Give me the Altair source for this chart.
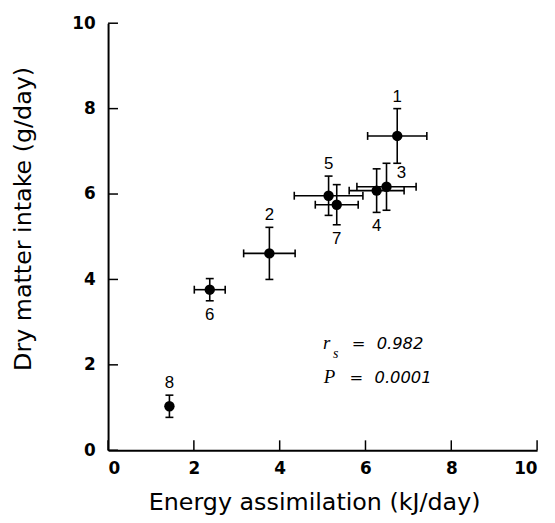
import altair as alt
import pandas as pd

# ---- data ----
ids = ["1", "2", "3", "4", "5", "6", "7", "8"]
energy = [6.74, 3.76, 6.49, 6.26, 5.14, 2.37, 5.33, 1.43]
energy_err = [0.69, 0.60, 0.69, 0.64, 0.80, 0.36, 0.50, 0.0]
intake = [7.36, 4.61, 6.17, 6.08, 5.96, 3.76, 5.75, 1.03]
intake_err = [0.64, 0.61, 0.55, 0.51, 0.46, 0.26, 0.47, 0.26]
label_side = ["above", "above", "right", "below", "above", "below", "below", "above"]

tick_values = [0, 2, 4, 6, 8, 10]

# annotation (r_s and P), placed in data units
ann_serif_text = ["r", "P"]
ann_serif_x = [5.01, 5.03]
ann_serif_y = [2.37, 1.58]
ann_sub_text = ["s"]
ann_sub_x = [5.24]
ann_sub_y = [2.17]
ann_sans_text = ["=", "0.982", "=", "0.0001"]
ann_sans_x = [5.68, 6.26, 5.63, 6.21]
ann_sans_y = [2.37, 2.37, 1.58, 1.58]

df = pd.DataFrame({
    "id": ids, "x": energy, "xerr": energy_err,
    "y": intake, "yerr": intake_err, "side": label_side,
})
ticks_df = pd.DataFrame({"t": tick_values})
serif_df = pd.DataFrame({"text": ann_serif_text, "x": ann_serif_x, "y": ann_serif_y})
sub_df = pd.DataFrame({"text": ann_sub_text, "x": ann_sub_x, "y": ann_sub_y})
sans_df = pd.DataFrame({"text": ann_sans_text, "x": ann_sans_x, "y": ann_sans_y})

W, H = 433, 431
xs = alt.Scale(domain=[0, 10], nice=False, zero=False)
ys = alt.Scale(domain=[0, 10], nice=False, zero=False)

base = alt.Chart(df).transform_calculate(
    xlo="datum.x - datum.xerr", xhi="datum.x + datum.xerr",
    ylo="datum.y - datum.yerr", yhi="datum.y + datum.yerr",
)

x_axis = alt.Axis(
    values=tick_values, title="Energy assimilation (kJ/day)",
    ticks=False, tickSize=0, labelPadding=10, grid=False,
    titleX=208, titleY=60, titleBaseline="alphabetic", titleAlign="center",
)
y_axis = alt.Axis(
    values=tick_values, title="Dry matter intake (g/day)",
    ticks=False, tickSize=0, labelPadding=13, grid=False,
    titleX=-85, titleY=197, titleBaseline="middle", titleAlign="center", titleAngle=270,
)

black = "#000000"
lw = 1.6

xbars = base.transform_filter("datum.xerr > 0").mark_rule(color=black, strokeWidth=lw).encode(
    x=alt.X("xlo:Q", scale=xs, axis=x_axis), x2="xhi:Q",
    y=alt.Y("y:Q", scale=ys, axis=y_axis),
)
ybars = base.mark_rule(color=black, strokeWidth=lw).encode(
    x=alt.X("x:Q", scale=xs), y=alt.Y("ylo:Q", scale=ys), y2="yhi:Q",
)
cap_h = dict(orient="horizontal", size=8, thickness=lw, color=black, opacity=1)
cap_v = dict(orient="vertical", size=8, thickness=lw, color=black, opacity=1)
ycap_lo = base.mark_tick(**cap_h).encode(x="x:Q", y="ylo:Q")
ycap_hi = base.mark_tick(**cap_h).encode(x="x:Q", y="yhi:Q")
xcap_lo = base.transform_filter("datum.xerr > 0").mark_tick(**cap_v).encode(x="xlo:Q", y="y:Q")
xcap_hi = base.transform_filter("datum.xerr > 0").mark_tick(**cap_v).encode(x="xhi:Q", y="y:Q")

points = base.mark_circle(size=110, color=black, opacity=1).encode(x="x:Q", y="y:Q")

lab_font = dict(font="Liberation Sans", fontSize=17, color=black, baseline="middle", align="center")
lab_above = base.transform_filter("datum.side == 'above'").mark_text(dy=-12, **lab_font).encode(
    x="x:Q", y="yhi:Q", text="id:N")
lab_below = base.transform_filter("datum.side == 'below'").mark_text(dy=14, **lab_font).encode(
    x="x:Q", y="ylo:Q", text="id:N")
lab_right = base.transform_filter("datum.side == 'right'").mark_text(dx=15, dy=-14, **lab_font).encode(
    x="x:Q", y="y:Q", text="id:N")

tk = alt.Chart(ticks_df)
x_ticks = tk.mark_rule(color=black, strokeWidth=1.5).encode(
    x=alt.X("t:Q", scale=xs), y=alt.value(H), y2=alt.value(H - 10))
y_ticks = tk.mark_rule(color=black, strokeWidth=1.5).encode(
    y=alt.Y("t:Q", scale=ys), x=alt.value(0), x2=alt.value(10))

serif = alt.Chart(serif_df).mark_text(
    font="Liberation Serif", fontStyle="italic", fontSize=19, color=black,
    align="left", baseline="alphabetic").encode(x="x:Q", y="y:Q", text="text:N")
sub = alt.Chart(sub_df).mark_text(
    font="Liberation Serif", fontStyle="italic", fontSize=14, color=black,
    align="left", baseline="alphabetic").encode(x="x:Q", y="y:Q", text="text:N")
sans = alt.Chart(sans_df).mark_text(
    font="DejaVu Sans", fontStyle="italic", fontSize=16.5, color=black,
    align="left", baseline="alphabetic").encode(x="x:Q", y="y:Q", text="text:N")

chart = alt.layer(
    xbars, ybars, ycap_lo, ycap_hi, xcap_lo, xcap_hi, points,
    lab_above, lab_below, lab_right, x_ticks, y_ticks, serif, sub, sans,
).properties(
    width=W, height=H,
    autosize=alt.AutoSizeParams(type="none"),
    padding={"left": 101, "top": 13, "right": 10, "bottom": 63},
).configure_view(stroke=None).configure_axis(
    domainColor=black, domainWidth=2,
    labelFont="DejaVu Sans", labelFontWeight="bold", labelFontSize=17, labelColor=black,
    titleFont="DejaVu Sans", titleFontWeight="normal", titleFontSize=24, titleColor=black,
)

chart.save("out.html", embed_options={"renderer": "svg", "actions": False})
